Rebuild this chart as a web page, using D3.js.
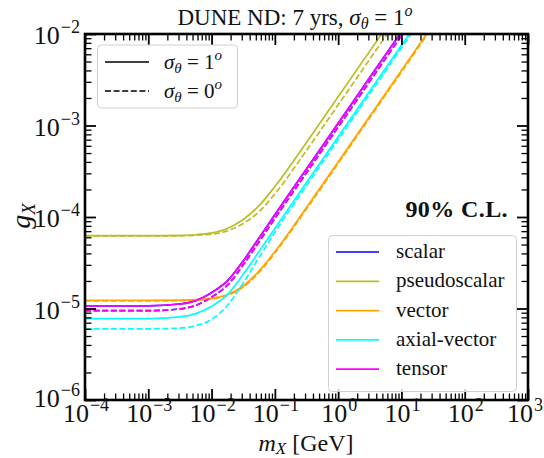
<!DOCTYPE html>
<html>
<head>
<meta charset="utf-8">
<script src="https://cdn.jsdelivr.net/npm/d3@7/dist/d3.min.js"></script>
<style>
  html, body { margin: 0; padding: 0; background: #fff; }
  svg { display: block; }
</style>
</head>
<body>
<svg id="chart" width="544" height="458" font-family="'Liberation Serif', 'DejaVu Serif', serif"></svg>
<script>
// Mediator mass grid [GeV]
const massGeV = [1e-4, 1e-3, 3.16e-3, 5.62e-3, 1e-2, 1.78e-2, 3.16e-2, 5.62e-2, 0.1, 0.316, 1, 3.16, 10, 31.6];

// 90% C.L. coupling limits, sigma_theta = 1 deg (solid) and 0 deg (dashed)
const scalarSolid       = [1.07e-5, 1.07e-5, 1.12e-5, 1.22e-5, 1.49e-5, 2.0e-5, 3.3e-5, 5.9e-5, 1.06e-4, 3.34e-4, 1.057e-3, 3.34e-3, 1.057e-2, 3.34e-2];
const scalarDashed      = [9.46e-6, 9.46e-6, 9.9e-6, 1.08e-5, 1.33e-5, 1.8e-5, 3.0e-5, 5.35e-5, 9.65e-5, 3.04e-4, 9.62e-4, 3.04e-3, 9.62e-3, 3.04e-2];
const pseudoscalarSolid = [6.25e-5, 6.25e-5, 6.3e-5, 6.4e-5, 6.7e-5, 7.5e-5, 9.4e-5, 1.33e-4, 2.15e-4, 6.53e-4, 2.06e-3, 6.5e-3, 2.06e-2, 6.5e-2];
const pseudoscalarDashed= [6.2e-5, 6.2e-5, 6.22e-5, 6.3e-5, 6.5e-5, 7.05e-5, 8.5e-5, 1.14e-4, 1.79e-4, 5.34e-4, 1.68e-3, 5.3e-3, 1.68e-2, 5.3e-2];
const vectorSolid       = [1.23e-5, 1.23e-5, 1.236e-5, 1.25e-5, 1.293e-5, 1.42e-5, 1.764e-5, 2.56e-5, 4.18e-5, 1.27e-4, 4.0e-4, 1.264e-3, 4.0e-3, 1.264e-2];
const vectorDashed      = [1.21e-5, 1.21e-5, 1.216e-5, 1.229e-5, 1.27e-5, 1.39e-5, 1.715e-5, 2.48e-5, 4.04e-5, 1.22e-4, 3.85e-4, 1.215e-3, 3.85e-3, 1.215e-2];
const axialSolid        = [7.74e-6, 7.74e-6, 8.1e-6, 8.8e-6, 1.06e-5, 1.42e-5, 2.35e-5, 4.2e-5, 7.5e-5, 2.38e-4, 7.52e-4, 2.38e-3, 7.52e-3, 2.38e-2];
const axialDashed       = [6.0e-6, 6.0e-6, 6.1e-6, 6.5e-6, 7.6e-6, 1.08e-5, 1.9e-5, 3.6e-5, 6.8e-5, 2.2e-4, 7.0e-4, 2.22e-3, 7.05e-3, 2.23e-2];
const tensorSolid       = [1.07e-5, 1.07e-5, 1.12e-5, 1.22e-5, 1.49e-5, 2.0e-5, 3.3e-5, 5.9e-5, 1.06e-4, 3.34e-4, 1.057e-3, 3.34e-3, 1.057e-2, 3.34e-2];
const tensorDashed      = [9.46e-6, 9.46e-6, 9.9e-6, 1.08e-5, 1.33e-5, 1.8e-5, 3.0e-5, 5.35e-5, 9.65e-5, 3.04e-4, 9.62e-4, 3.04e-3, 9.62e-3, 3.04e-2];

const interactionNames  = ["scalar", "pseudoscalar", "vector", "axial-vector", "tensor"];
const interactionColors = ["#0000ff", "#bcbd22", "#ffa500", "#00ffff", "#ff00ff"];
const solidSeries  = [scalarSolid, pseudoscalarSolid, vectorSolid, axialSolid, tensorSolid];
const dashedSeries = [scalarDashed, pseudoscalarDashed, vectorDashed, axialDashed, tensorDashed];

const xTickExponents = [-4, -3, -2, -1, 0, 1, 2, 3];
const yTickExponents = [-6, -5, -4, -3, -2];
const resolutionLabels = ["1", "0"];

const titleText = "DUNE ND: 7 yrs, ";
const clText = "90% C.L.";

// ---------------------------------------------------------------
const svg = d3.select("#chart");
const plotL = 85, plotR = 528, plotT = 34, plotB = 400;

const x = d3.scaleLog().domain([1e-4, 1e3]).range([plotL, plotR]);
const y = d3.scaleLog().domain([1e-6, 1e-2]).range([plotB, plotT]);

svg.append("defs").append("clipPath").attr("id", "plotClip")
  .append("rect").attr("x", plotL).attr("y", plotT)
  .attr("width", plotR - plotL).attr("height", plotB - plotT);

// curves
const line = d3.line()
  .x((d, i) => x(massGeV[i]))
  .y(d => y(d))
  .curve(d3.curveMonotoneX);

const curves = svg.append("g").attr("clip-path", "url(#plotClip)");
interactionNames.forEach((name, k) => {
  curves.append("path")
    .attr("d", line(solidSeries[k]))
    .attr("fill", "none")
    .attr("stroke", interactionColors[k])
    .attr("stroke-width", 1.7);
  curves.append("path")
    .attr("d", line(dashedSeries[k]))
    .attr("fill", "none")
    .attr("stroke", interactionColors[k])
    .attr("stroke-width", 1.7)
    .attr("stroke-dasharray", "6,2.6");
});

// ticks: majors at decades, minors at 2..9 on every side, pointing inward
const minorTicks = (lo, hi) => {
  const out = [];
  for (let e = lo; e < hi; e++) for (let m = 2; m <= 9; m++) out.push(m * Math.pow(10, e));
  return out;
};
const xMajor = xTickExponents.map(e => Math.pow(10, e));
const yMajor = yTickExponents.map(e => Math.pow(10, e));
const xMinor = minorTicks(-4, 3);
const yMinor = minorTicks(-6, -2);

function tickAxis(axisFn, scale, values, size, transform, width) {
  const g = svg.append("g").attr("transform", transform)
    .call(axisFn(scale).tickValues(values).tickSize(-size).tickFormat(""));
  g.select(".domain").remove();
  g.selectAll(".tick line").attr("stroke", "#000").attr("stroke-width", width);
}
tickAxis(d3.axisBottom, x, xMajor, 11, `translate(0,${plotB})`, 1.8);
tickAxis(d3.axisBottom, x, xMinor, 6.5, `translate(0,${plotB})`, 1.3);
tickAxis(d3.axisTop, x, xMajor, 11, `translate(0,${plotT})`, 1.8);
tickAxis(d3.axisTop, x, xMinor, 6.5, `translate(0,${plotT})`, 1.3);
tickAxis(d3.axisLeft, y, yMajor, 11, `translate(${plotL},0)`, 1.8);
tickAxis(d3.axisLeft, y, yMinor, 6.5, `translate(${plotL},0)`, 1.3);
tickAxis(d3.axisRight, y, yMajor, 11, `translate(${plotR},0)`, 1.8);
tickAxis(d3.axisRight, y, yMinor, 6.5, `translate(${plotR},0)`, 1.3);

// frame
svg.append("rect").attr("x", plotL).attr("y", plotT)
  .attr("width", plotR - plotL).attr("height", plotB - plotT)
  .attr("fill", "none").attr("stroke", "#000").attr("stroke-width", 2.6);

// tick labels as powers of ten
function powerLabel(exp, anchor) {
  const t = svg.append("text").attr("text-anchor", anchor).attr("font-size", 26).attr("fill", "#111");
  t.append("tspan").text("10");
  t.append("tspan").attr("font-size", 18).attr("dy", -11).attr("dx", 1)
    .text(exp < 0 ? "\u2212" + (-exp) : String(exp));
  return t;
}
xTickExponents.forEach(e => {
  const t = powerLabel(e, "middle").attr("x", x(Math.pow(10, e)) + 1).attr("y", 422);
  if (e === 3) t.attr("text-anchor", "end").attr("x", 543);
});
yTickExponents.forEach(e => {
  powerLabel(e, "end").attr("x", plotL - 5).attr("y", y(Math.pow(10, e)) + (e === -6 ? 7 : 10));
});

// axis titles
const xt = svg.append("text").attr("x", 306).attr("y", 451).attr("text-anchor", "middle")
  .attr("font-size", 24).attr("fill", "#111");
xt.append("tspan").attr("font-style", "italic").text("m");
xt.append("tspan").attr("font-style", "italic").attr("font-size", 17).attr("dy", 3).text("X");
xt.append("tspan").attr("dy", -3).text(" [GeV]");

const yt = svg.append("text").attr("transform", "translate(30,216) rotate(-90)")
  .attr("text-anchor", "middle").attr("font-size", 28).attr("fill", "#111");
yt.append("tspan").attr("font-style", "italic").text("g");
yt.append("tspan").attr("font-style", "italic").attr("font-size", 19).attr("dy", 5).text("X");

// title
const tt = svg.append("text").attr("x", 295).attr("y", 25).attr("text-anchor", "middle")
  .attr("font-size", 23).attr("fill", "#111");
tt.append("tspan").text(titleText);
tt.append("tspan").attr("font-style", "italic").text("\u03C3");
tt.append("tspan").attr("font-style", "italic").attr("font-size", 16).attr("dy", 4).text("\u03B8");
tt.append("tspan").attr("dy", -4).text(" = 1");
tt.append("tspan").attr("font-style", "italic").attr("font-size", 16).attr("dy", -9).text("o");

// confidence-level tag
svg.append("text").attr("x", 508).attr("y", 217).attr("text-anchor", "end")
  .attr("font-size", 24).attr("letter-spacing", 0.4).attr("font-weight", "bold")
  .attr("fill", "#111").text(clText);

// legend: angular resolution
const leg1 = svg.append("g");
leg1.append("rect").attr("x", 97.5).attr("y", 45).attr("width", 140).attr("height", 63)
  .attr("rx", 4).attr("fill", "#fff").attr("fill-opacity", 0.8).attr("stroke", "#d0d0d0");
resolutionLabels.forEach((lab, i) => {
  const yy = 62 + i * 29;
  leg1.append("line").attr("x1", 105).attr("x2", 149).attr("y1", yy).attr("y2", yy)
    .attr("stroke", "#000").attr("stroke-width", 1.7)
    .attr("stroke-dasharray", i === 1 ? "6,2.6" : null);
  const t = leg1.append("text").attr("x", 164).attr("y", yy + 7).attr("font-size", 21).attr("fill", "#111");
  t.append("tspan").attr("font-style", "italic").text("\u03C3");
  t.append("tspan").attr("font-style", "italic").attr("font-size", 15).attr("dy", 4).text("\u03B8");
  t.append("tspan").attr("dy", -4).text(" = " + lab);
  t.append("tspan").attr("font-style", "italic").attr("font-size", 15).attr("dy", -9).text("o");
});

// legend: interaction types
const leg2 = svg.append("g");
leg2.append("rect").attr("x", 328.5).attr("y", 235.5).attr("width", 188).attr("height", 156)
  .attr("rx", 4).attr("fill", "#fff").attr("fill-opacity", 0.8).attr("stroke", "#d0d0d0");
interactionNames.forEach((name, i) => {
  const yy = 252 + i * 29.3;
  leg2.append("line").attr("x1", 336).attr("x2", 379).attr("y1", yy).attr("y2", yy)
    .attr("stroke", interactionColors[i]).attr("stroke-width", 1.7);
  leg2.append("text").attr("x", 396).attr("y", yy + 6).attr("font-size", 21).attr("fill", "#111").text(name);
});
</script>
</body>
</html>
